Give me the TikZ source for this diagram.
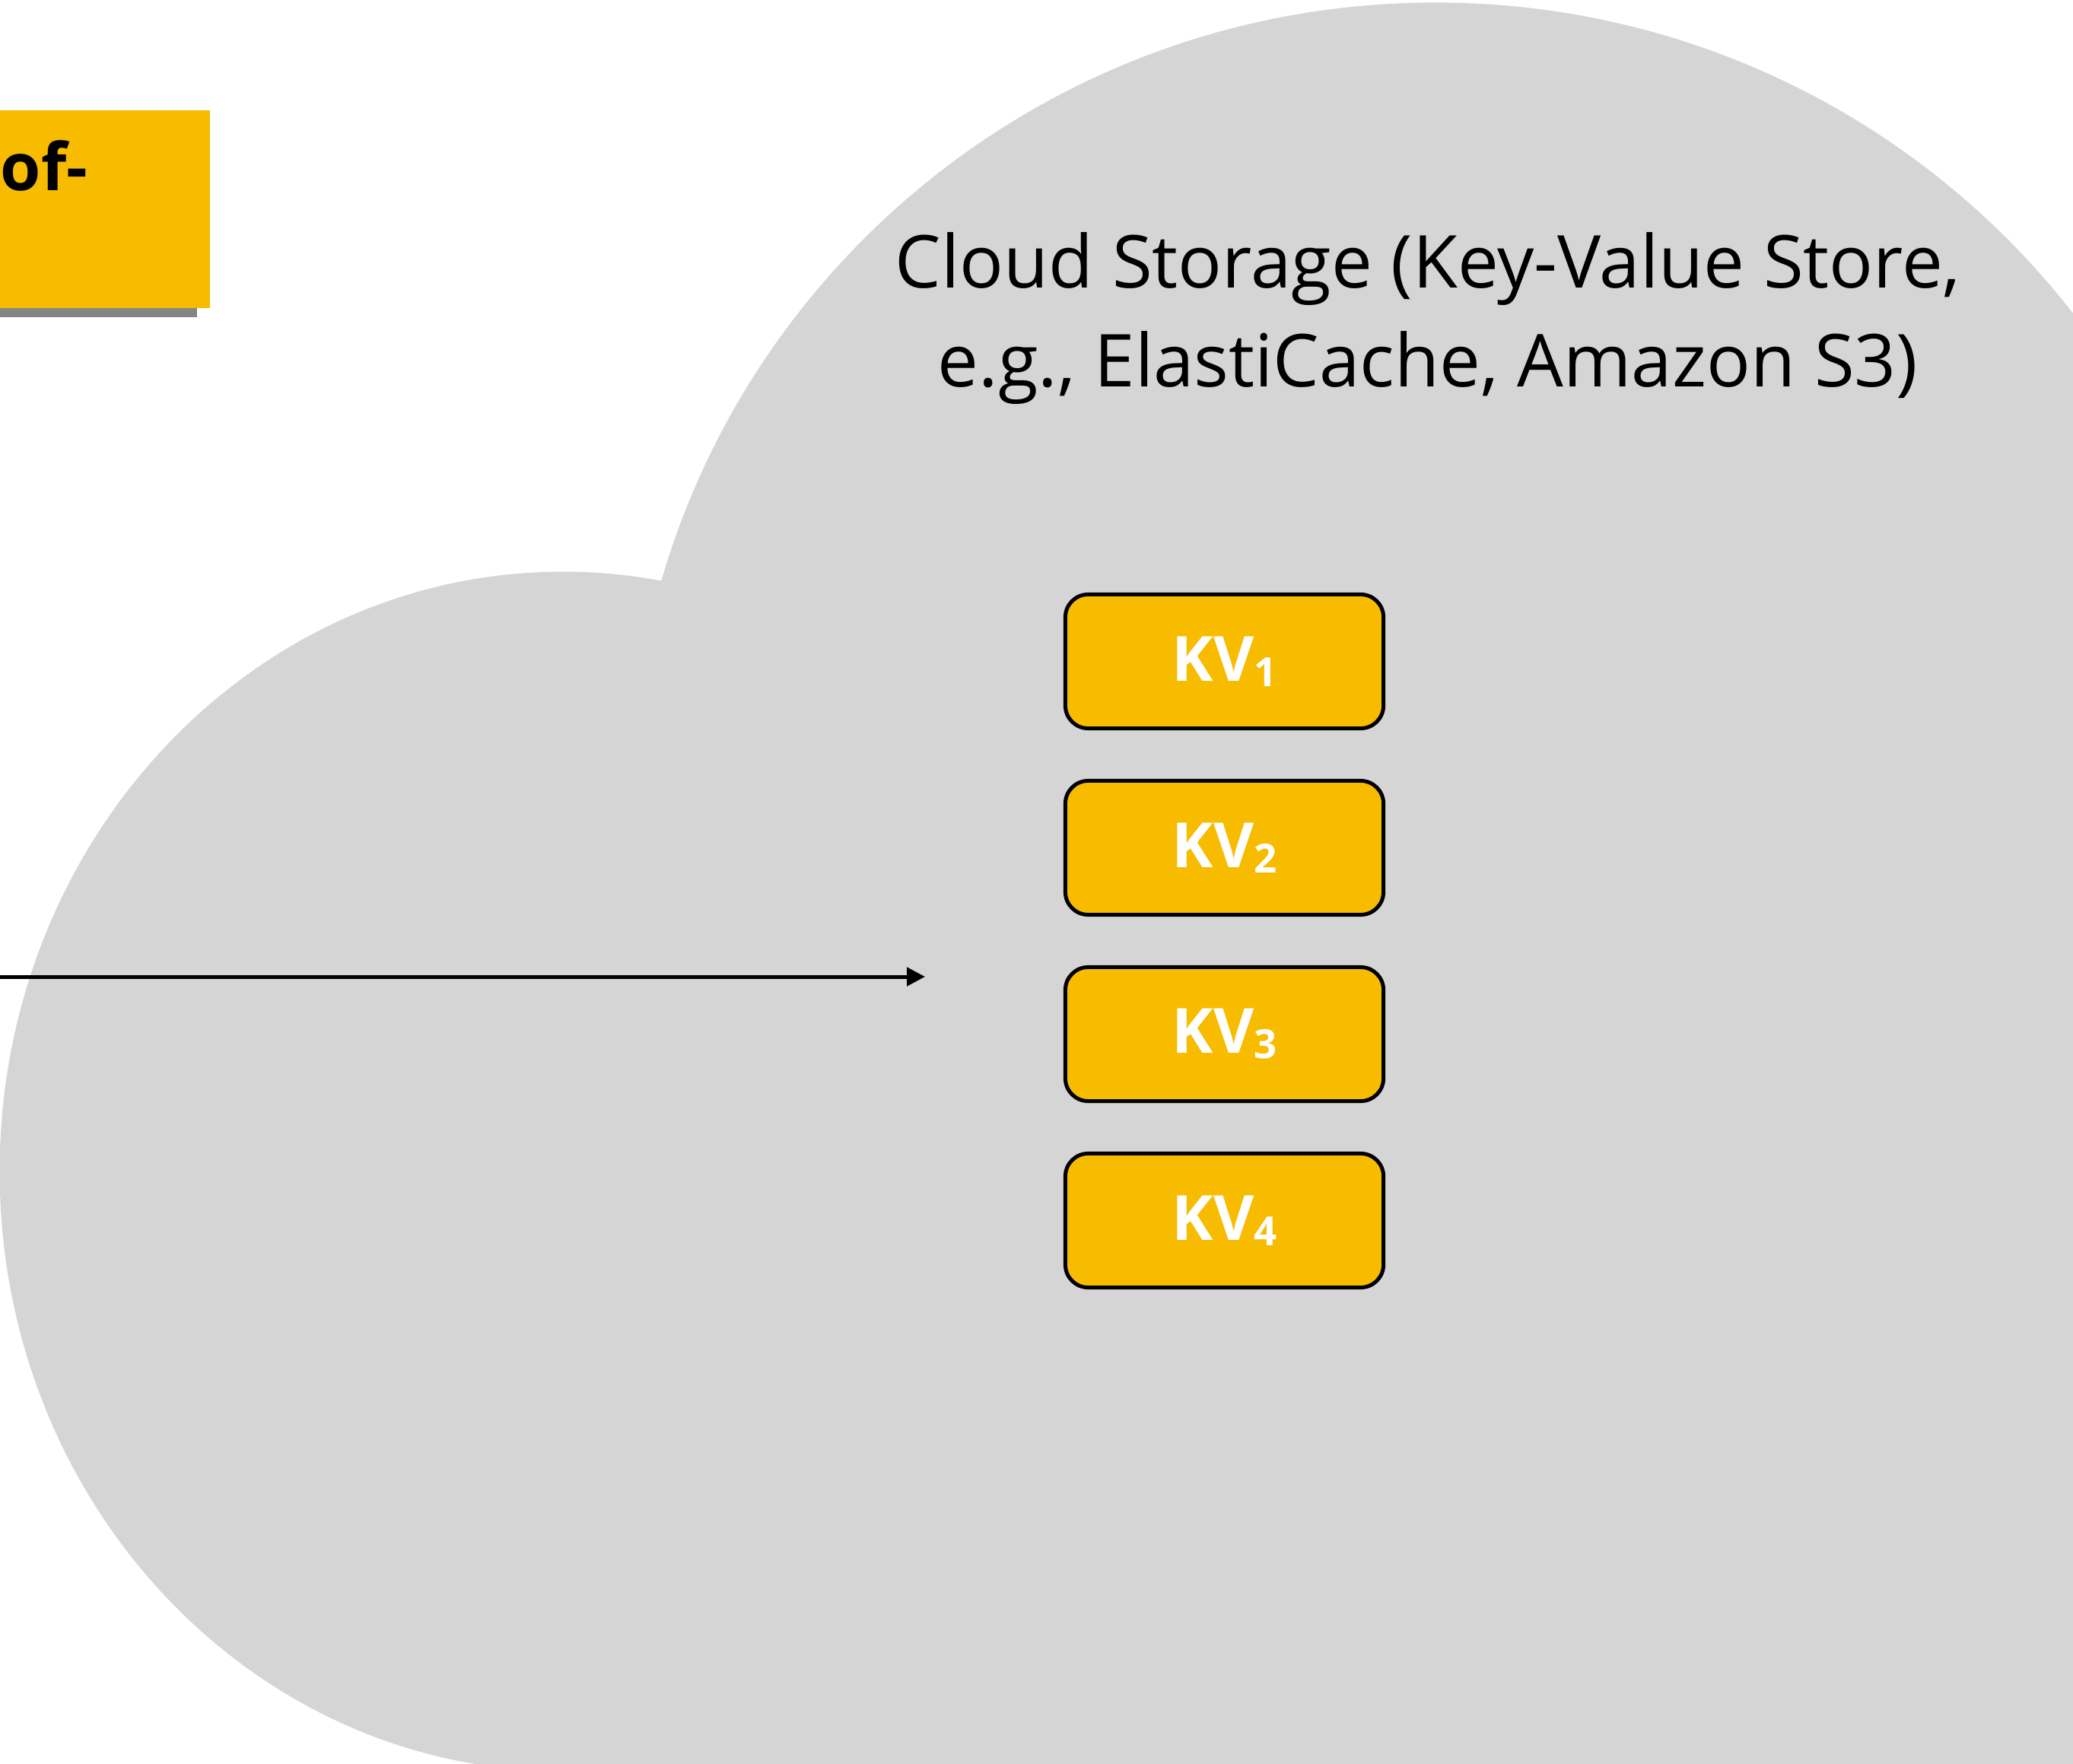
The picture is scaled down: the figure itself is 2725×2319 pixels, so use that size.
\documentclass[tikz,border=0pt]{standalone}
\usepackage{fontspec}
\setmainfont{Open Sans}
\usetikzlibrary{arrows.meta}
\definecolor{cloudgray}{HTML}{D5D5D5}
\definecolor{amber}{HTML}{F7BC00}
\definecolor{shadowgray}{HTML}{858585}

\newcommand{\kvlabel}[1]{KV\raisebox{-0.07cm}{\fontsize{15}{17}\selectfont #1}}

\begin{document}
\begin{tikzpicture}[x=0.01cm, y=-0.01cm,
  kvbox/.style={draw=black, line width=1.42pt, fill=amber, rounded corners=0.3cm,
    minimum width=4.18cm, minimum height=1.76cm, inner sep=0pt, text=white,
    font=\fontsize{23.3}{28}\selectfont\bfseries},
  titlebox/.style={fill=amber, inner sep=0pt, minimum width=5.76cm, minimum height=2.6cm},
  flow/.style={line width=1.42pt, -{Triangle[length=0.24cm, width=0.24cm]}}]
\useasboundingbox (0,0) rectangle (2725,2319);
\clip (0,0) rectangle (2725,2319);

% cloud body: left lobe, upper lobe and the filled interior towards the lower right
\fill[cloudgray] (740,1540) ellipse [x radius=7.4cm, y radius=7.88cm];
\fill[cloudgray] (1887,1054) ellipse [x radius=10.58cm, y radius=10.5cm];
\fill[cloudgray] (864,766) -- (1887,1054) -- (2800,1054) -- (2800,2400)
  -- (740,2400) -- (740,1540) -- cycle;

% title card with drop shadow
\fill[shadowgray] (-300,170) rectangle (259,417);
\node[titlebox] (title) at (-12,275) {};
\node[anchor=base west, inner sep=0pt, font=\fontsize{24.5}{30}\selectfont\bfseries] (titletext) at (0,251) {of-};

% storage label
\node[align=center, inner sep=0pt, font=\fontsize{27.3}{37}\selectfont, anchor=base] (cloudlabel) at (1877,509)
  {Cloud Storage (Key-Value Store,\\e.g., ElastiCache, Amazon S3)};

% key-value stores
\node[kvbox] (kv1) at (1609.5,869.5) {\kvlabel{1}};
\node[kvbox] (kv2) at (1609.5,1114.5) {\kvlabel{2}};
\node[kvbox] (kv3) at (1609.5,1359.5) {\kvlabel{3}};
\node[kvbox] (kv4) at (1609.5,1604.5) {\kvlabel{4}};

% incoming request
\coordinate (src) at (-20,1284);
\coordinate (dst) at (1216,1284);
\draw[flow] (src) -- (dst);
\end{tikzpicture}
\end{document}
